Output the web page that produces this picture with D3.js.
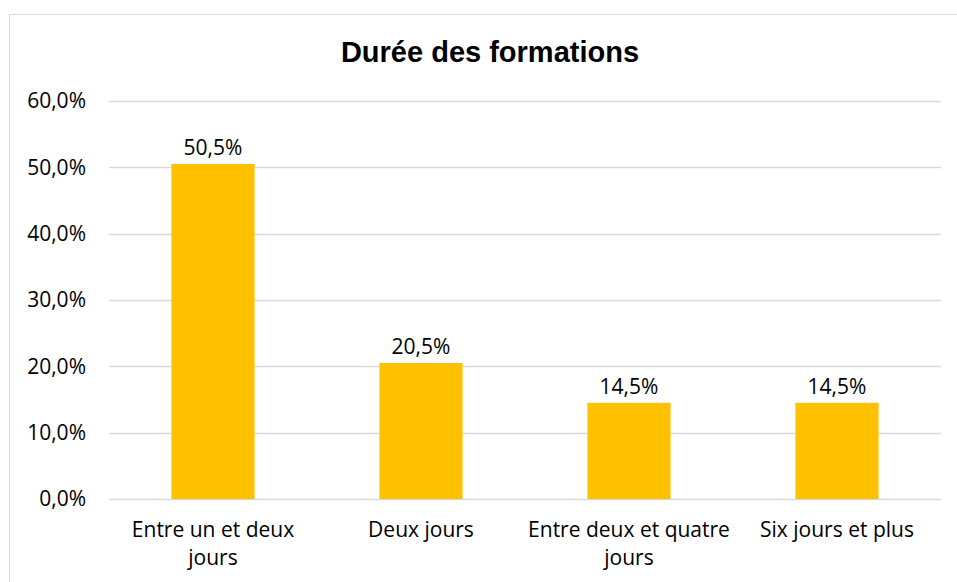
<!DOCTYPE html>
<html>
<head>
<meta charset="utf-8">
<script src="https://cdn.jsdelivr.net/npm/d3@7"></script>
<style>
  body { margin: 0; background: #fff; }
  .tick-label, .cat-label, .val-label { font-family: 'Open Sans', sans-serif; font-size: 21px; fill: #000; }
  .title { font-family: 'Liberation Sans', Arial, sans-serif; font-weight: bold; font-size: 29px; fill: #000; }
</style>
</head>
<body>
<svg id="chart"></svg>
<script>
const categories = ["Entre un et deux jours", "Deux jours", "Entre deux et quatre jours", "Six jours et plus"];
const values = [50.5, 20.5, 14.5, 14.5];
const yTicks = [0, 10, 20, 30, 40, 50, 60];
const title = "Durée des formations";

const width = 957, height = 582;
const margin = { top: 101, right: 16, bottom: 83, left: 109 };

const svg = d3.select("#chart")
    .attr("width", width)
    .attr("height", height);

// chart frame
svg.append("rect")
    .attr("x", 9.5)
    .attr("y", 14.5)
    .attr("width", 960)
    .attr("height", 600)
    .attr("fill", "none")
    .attr("stroke", "#d9d9d9");

const x = d3.scaleBand()
    .domain(categories)
    .range([margin.left, width - margin.right])
    .paddingInner(0.6)
    .paddingOuter(0.3);

const y = d3.scaleLinear()
    .domain([0, 60])
    .range([height - margin.bottom, margin.top]);

const fmt = v => v.toFixed(1).replace(".", ",") + "%";

// gridlines
svg.append("g")
    .selectAll("line")
    .data(yTicks)
    .join("line")
    .attr("x1", margin.left)
    .attr("x2", width - margin.right)
    .attr("y1", d => Math.round(y(d)) + 0.5)
    .attr("y2", d => Math.round(y(d)) + 0.5)
    .attr("stroke", "#d9d9d9")
    .attr("stroke-width", 1.5);

// y tick labels
svg.append("g")
    .selectAll("text")
    .data(yTicks)
    .join("text")
    .attr("class", "tick-label")
    .attr("x", 86)
    .attr("y", d => y(d))
    .attr("dy", "0.35em")
    .attr("text-anchor", "end")
    .text(d => fmt(d));

// bars
svg.append("g")
    .selectAll("rect")
    .data(values)
    .join("rect")
    .attr("x", (d, i) => x(categories[i]))
    .attr("y", d => y(d))
    .attr("width", x.bandwidth())
    .attr("height", d => y(0) - y(d))
    .attr("fill", "#ffc000");

// value labels
svg.append("g")
    .selectAll("text")
    .data(values)
    .join("text")
    .attr("class", "val-label")
    .attr("x", (d, i) => x(categories[i]) + x.bandwidth() / 2)
    .attr("y", d => y(d) - 9)
    .attr("text-anchor", "middle")
    .text(d => fmt(d));

// category labels, wrapped
const catG = svg.append("g")
    .selectAll("text")
    .data(categories)
    .join("text")
    .attr("class", "cat-label")
    .attr("x", d => x(d) + x.bandwidth() / 2)
    .attr("y", 537)
    .attr("text-anchor", "middle");

catG.each(function (d) {
    const t = d3.select(this);
    const words = d.split(" ");
    let line = [];
    let tspan = t.append("tspan").attr("x", t.attr("x")).attr("dy", 0);
    words.forEach(w => {
        line.push(w);
        tspan.text(line.join(" "));
        if (tspan.node().getComputedTextLength() > x.step() - 2 && line.length > 1) {
            line.pop();
            tspan.text(line.join(" "));
            line = [w];
            tspan = t.append("tspan").attr("x", t.attr("x")).attr("dy", 28).text(w);
        }
    });
});

// title
svg.append("text")
    .attr("class", "title")
    .attr("x", 490)
    .attr("y", 62)
    .attr("text-anchor", "middle")
    .text(title);
</script>
</body>
</html>
